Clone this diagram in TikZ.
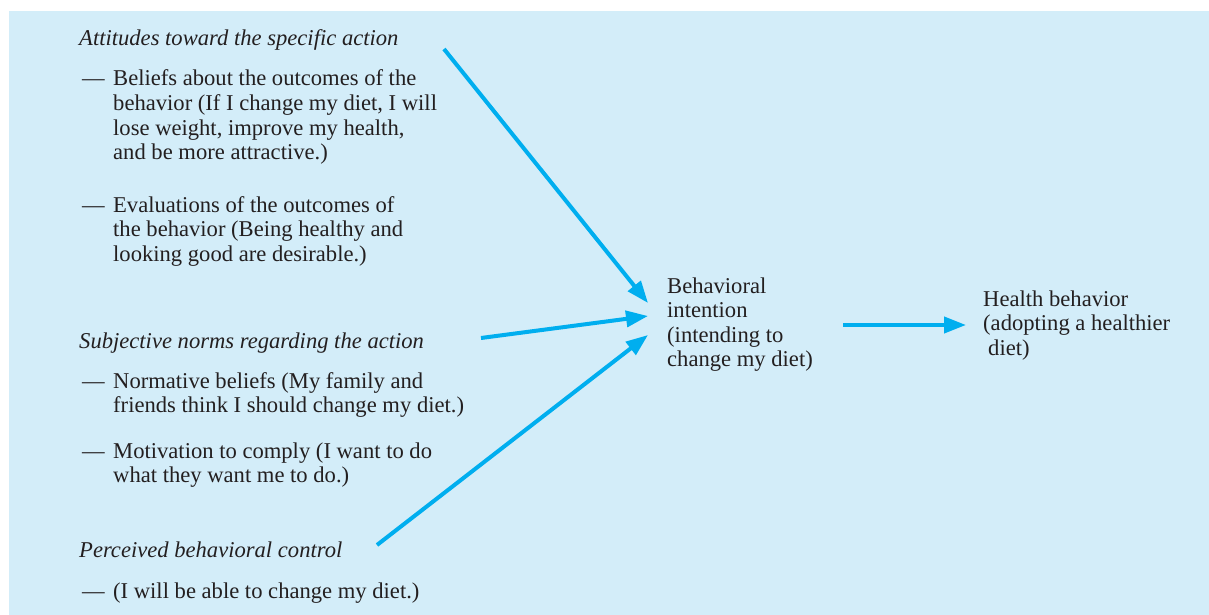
\documentclass[tikz,border=0pt]{standalone}
\usepackage{fontspec}
\setmainfont{Liberation Serif}
\usetikzlibrary{arrows.meta}
\definecolor{bgblue}{HTML}{D3EDF9}
\definecolor{arrowblue}{HTML}{00AEEF}
\definecolor{txt}{HTML}{231F20}
\newcommand{\itemrows}[1]{\begin{tabular}[t]{@{}l@{}l@{}}#1\end{tabular}}
\newcommand{\dsh}{\makebox[31pt][l]{—}}
\newcommand{\plainrows}[1]{\begin{tabular}[t]{@{}l@{}}#1\end{tabular}}
\begin{document}
\begin{tikzpicture}[x=1pt,y=-1pt,
  txtnode/.style={anchor=base west,inner sep=0pt,text=txt,font=\fontsize{22.6}{24.6}\selectfont},
  flow/.style={draw=arrowblue,line width=4pt,-{Triangle[length=22pt,width=16pt]}}]
\useasboundingbox (0,0) rectangle (1209,615);
\fill[white] (0,0) rectangle (1209,615);
\fill[bgblue] (9,11) rectangle (1209,615);
% left column
\node[txtnode] (att) at (79,46) {\itshape Attitudes toward the specific action};
\node[txtnode] (bel) at (82,86) {\itemrows{\dsh & Beliefs about the outcomes of the\\ & behavior (If I change my diet, I will\\ & lose weight, improve my health,\\ & and be more attractive.)}};
\node[txtnode] (eva) at (82,212) {\itemrows{\dsh & Evaluations of the outcomes of\\ & the behavior (Being healthy and\\ & looking good are desirable.)}};
\node[txtnode] (sub) at (79,348) {\itshape Subjective norms regarding the action};
\node[txtnode] (nor) at (82,388) {\itemrows{\dsh & Normative beliefs (My family and\\ & friends think I should change my diet.)}};
\node[txtnode] (mot) at (82,458) {\itemrows{\dsh & Motivation to comply (I want to do\\ & what they want me to do.)}};
\node[txtnode] (per) at (79,557) {\itshape Perceived behavioral control};
\node[txtnode] (can) at (82,598) {\itemrows{\dsh & (I will be able to change my diet.)}};
% middle and right
\node[txtnode] (int) at (667,293) {\plainrows{Behavioral\\ intention\\ (intending to\\ change my diet)}};
\node[txtnode] (hb) at (983,306) {\plainrows{Health behavior\\ (adopting a healthier\\ \hspace{5pt}diet)}};
% arrow end points
\coordinate (a1s) at (444,49);
\coordinate (a1e) at (648,303);
\coordinate (a2s) at (481,338);
\coordinate (a2e) at (648,316);
\coordinate (a3s) at (377,545);
\coordinate (a3e) at (648,335);
\coordinate (a4s) at (843,325);
\coordinate (a4e) at (966,325);
\draw[flow] (a1s) -- (a1e);
\draw[flow] (a2s) -- (a2e);
\draw[flow] (a3s) -- (a3e);
\draw[flow] (a4s) -- (a4e);
\end{tikzpicture}
\end{document}
